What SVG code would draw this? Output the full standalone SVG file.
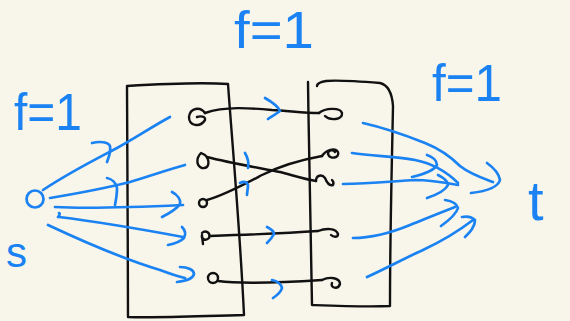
<svg xmlns="http://www.w3.org/2000/svg" width="570" height="321" viewBox="0 0 570 321">
  <style>
    .ink { fill: none; stroke: #111; stroke-width: 2.4; stroke-linecap: round; stroke-linejoin: round; }
    .pen { fill: none; stroke: #1a82f2; stroke-width: 2.7; stroke-linecap: round; stroke-linejoin: round; }
    .lbl { fill: #1a82f2; font-family: "Liberation Sans", Arial, sans-serif; }
  </style>
  <rect width="570" height="321" fill="#f8f6eb"/>

  <!-- labels -->
  <g id="labels">
    <text class="lbl" x="234" y="48" font-size="52" textLength="80" lengthAdjust="spacingAndGlyphs">f=1</text>
    <text class="lbl" x="432" y="101" font-size="52" textLength="70" lengthAdjust="spacingAndGlyphs">f=1</text>
    <text class="lbl" x="14" y="130" font-size="52" textLength="68" lengthAdjust="spacingAndGlyphs">f=1</text>
    <text class="lbl" x="6" y="267" font-size="42">s</text>
    <text class="lbl" x="528" y="220" font-size="56">t</text>
  </g>

  <!-- left column of vertices -->
  <g id="left-box">
    <path class="ink" d="M127,86 C160,84 200,82 228,84 C232,140 240,230 244,315 C200,316 160,318 128,317 C128,240 127,160 127,86"/>
  </g>
  <!-- right column of vertices -->
  <g id="right-box">
    <path class="ink" d="M308,82 C309,160 311,240 312,305 C340,306 366,307 390,306 C390,230 392,160 393,106 C392,92 388,85 380,83 C355,81 335,80 326,81 C320,82 317,84 317,86"/>
  </g>

  <g id="s">
    <circle class="pen" cx="35" cy="199" r="8.5"/>
  </g>

  <g id="L1"><path class="ink" d="M205,113 C200,106 190,108 189,117 C189,126 200,128 205,120 C206,116 200,116 197,117"/></g>
  <g id="L2"><path class="ink" d="M201,153 C196,158 196,166 202,168 C210,169 210,160 205,155 Z"/></g>
  <g id="L3"><circle class="ink" cx="203" cy="203" r="4"/></g>
  <g id="L4"><path class="ink" d="M202,233 C205,230 211,232 209,238 C206,241 201,240 202,235 M202,236 L203,244"/></g>
  <g id="L5"><circle class="ink" cx="213" cy="278" r="5"/></g>

  <g id="R1"><path class="ink" d="M319,113 C325,108 340,107 342,113 C343,120 330,121 325,116"/></g>
  <g id="R2"><path class="ink" d="M322,156 C326,150 335,147 338,152 C340,158 330,160 328,154 C328,150 333,149 335,152"/></g>
  <g id="R3"><path class="ink" d="M316,181 C316,175 322,174 325,178 C327,183 330,186 333,185 C334,183 333,181 332,180"/></g>
  <g id="R4"><path class="ink" d="M318,231 C326,228 336,228 338,234 C338,238 333,237 331,235"/></g>
  <g id="R5"><path class="ink" d="M322,280 C330,276 340,278 340,284 C338,290 330,288 332,283"/></g>

  <g id="connectors">
    <!-- matching edges -->
    <path class="ink" d="M205,113 C225,106 250,108 272,110 C290,111 305,113 319,113"/>
    <path class="ink" d="M207,157 C230,163 260,168 280,172 C295,176 308,180 316,181"/>
    <path class="ink" d="M207,200 C225,195 245,184 262,175 C280,166 300,160 322,156"/>
    <path class="ink" d="M210,236 C240,235 290,233 318,231"/>
    <path class="ink" d="M218,281 C240,284 275,283 322,280"/>

    <!-- flow marks on middle edges -->
    <path class="pen" d="M265,98 C272,102 278,106 280,111 C276,114 271,117 268,119"/>
    <path class="pen" d="M245,153 C248,158 249,163 248,168"/>
    <path class="pen" d="M240,183 C244,181 247,182 248,185 C248,189 247,192 247,195"/>
    <path class="pen" d="M267,227 C271,229 274,231 274,234 C272,238 269,241 267,243"/>
    <path class="pen" d="M272,280 C277,281 281,284 282,288 C281,292 276,296 273,298"/>

    <!-- edges from s -->
    <path class="pen" d="M43,190 C70,172 100,157 117,148 C135,138 155,125 170,117"/>
    <path class="pen" d="M92,143 C100,141 108,142 110,146 C111,151 109,157 107,162"/>
    <path class="pen" d="M50,198 C80,193 110,187 130,182 C150,176 170,169 185,165"/>
    <path class="pen" d="M107,178 C112,179 116,183 117,188 C117,194 116,200 115,205"/>
    <path class="pen" d="M55,207 C90,209 140,207 183,205"/>
    <path class="pen" d="M172,192 C178,195 181,200 180,204 C176,210 168,214 162,217"/>
    <path class="pen" d="M58,217 C60,215 60,213 59,213 M59,217 C100,222 140,229 183,237"/>
    <path class="pen" d="M182,227 C185,230 186,234 184,238 C180,242 173,244 168,245"/>
    <path class="pen" d="M48,225 C80,240 120,258 160,270 C168,273 176,276 185,278"/>
    <path class="pen" d="M180,267 C188,267 194,270 194,274 C193,279 186,281 177,282"/>

    <!-- edges into t -->
    <path class="pen" d="M363,123 C385,128 410,137 425,143 C440,149 452,158 460,166 C470,174 482,178 493,182"/>
    <path class="pen" d="M487,163 C494,168 499,174 500,180 C498,187 488,191 471,193"/>
    <path class="pen" d="M352,153 C375,156 400,157 415,160 C430,163 445,170 458,183"/>
    <path class="pen" d="M427,155 C433,157 437,161 437,165 C434,170 425,174 412,177"/>
    <path class="pen" d="M343,184 C370,184 395,181 415,180 C430,180 447,183 458,185"/>
    <path class="pen" d="M438,175 C444,178 448,181 448,185 C445,191 436,195 427,198"/>
    <path class="pen" d="M353,238 C375,238 393,232 410,225 C425,219 442,212 455,207"/>
    <path class="pen" d="M445,200 C452,201 457,204 458,208 C456,215 448,221 441,226"/>
    <path class="pen" d="M367,277 C385,269 405,258 423,250 C440,242 460,230 473,220"/>
    <path class="pen" d="M462,217 C467,216 472,217 475,220 C475,227 470,232 465,237"/>
  </g>
</svg>
